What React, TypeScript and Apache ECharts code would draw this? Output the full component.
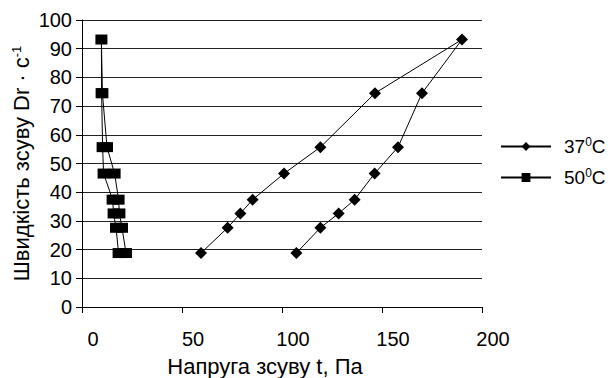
import React, { useEffect, useRef } from "react";
import * as echarts from "echarts";

const shearRate = [18.8, 27.6, 32.6, 37.4, 46.5, 55.7, 74.5, 93.2];
const stress37Up = [59.5, 72.8, 79.2, 85.3, 101, 119.2, 146.5, 190];
const stress37Down = [107.2, 119.2, 128.3, 136.3, 146.3, 158, 170, 190];
const stress50Up = [18.3, 17, 15.8, 15.3, 10.8, 10.3, 9.8, 9.7];
const stress50Down = [22, 20, 18.7, 18.3, 16.3, 12.5, 10.2, 9.7];
const seriesNames = ["37", "50"];
const xTicks = { min: 0, max: 200, interval: 50 };
const yTicks = { min: 0, max: 100, interval: 10 };

function loop(up: number[], down: number[]): number[][] {
  const pts: number[][] = [];
  for (let i = 0; i < up.length; i++) pts.push([up[i], shearRate[i]]);
  for (let i = down.length - 2; i >= 0; i--) pts.push([down[i], shearRate[i]]);
  return pts;
}

const FONT = "'Liberation Sans', Arial, sans-serif";

export default function App() {
  const ref = useRef<HTMLDivElement>(null);
  useEffect(() => {
    if (!ref.current) return;
    const chart = echarts.init(ref.current, undefined, { renderer: "svg" });
    chart.setOption({
      animation: false,
      backgroundColor: "#ffffff",
      grid: { left: 82, right: 130, top: 20, bottom: 71, containLabel: false, outerBoundsMode: "none" },
      legend: {
        orient: "vertical",
        left: 500,
        top: 136,
        padding: 0,
        itemWidth: 50,
        itemHeight: 11,
        itemGap: 11,
        data: seriesNames,
        formatter: (n: string) => `${n}{sup|0}C`,
        textStyle: {
          fontFamily: FONT,
          fontSize: 19,
          color: "#000",
          padding: [0, 0, 0, 8],
          rich: {
            sup: { fontFamily: FONT, fontSize: 12, color: "#000", padding: [0, 0, 9, 0] },
          },
        },
      },
      xAxis: {
        type: "value",
        min: xTicks.min,
        max: xTicks.max,
        interval: xTicks.interval,
        name: "Напруга зсуву t, Па",
        nameLocation: "middle",
        nameGap: 48,
        nameMoveOverlap: false,
        nameTextStyle: { fontFamily: FONT, fontSize: 22, color: "#000", padding: [0, 34, 0, 0] },
        axisLine: { show: true, lineStyle: { color: "#000", width: 1 } },
        axisTick: { show: true, length: 6, lineStyle: { color: "#000" } },
        axisLabel: { fontFamily: FONT, fontSize: 20, color: "#000", margin: 22, padding: [0, 0, 0, 22] },
        splitLine: { show: false },
      },
      yAxis: {
        type: "value",
        min: yTicks.min,
        max: yTicks.max,
        interval: yTicks.interval,
        name: "Швидкість зсуву Dr · с{sup|-1}",
        nameLocation: "middle",
        nameGap: 49,
        nameMoveOverlap: false,
        nameRotate: 90,
        nameTextStyle: {
          fontFamily: FONT,
          fontSize: 22,
          color: "#000",
          rich: {
            sup: { fontFamily: FONT, fontSize: 13, color: "#000", padding: [0, 0, 10, 0] },
          },
        },
        axisLine: { show: true, lineStyle: { color: "#000", width: 1 } },
        axisTick: { show: true, length: 6, lineStyle: { color: "#000" } },
        axisLabel: { fontFamily: FONT, fontSize: 20, color: "#000", margin: 10 },
        splitLine: { show: true, lineStyle: { color: "#222", width: 1 } },
      },
      series: [
        {
          name: seriesNames[0],
          type: "line",
          data: loop(stress37Up, stress37Down),
          symbol: "diamond",
          symbolSize: [12, 12],
          showAllSymbol: true,
          lineStyle: { color: "#000", width: 1 },
          itemStyle: { color: "#000" },
          z: 3,
        },
        {
          name: seriesNames[1],
          type: "line",
          data: loop(stress50Up, stress50Down),
          symbol: "rect",
          symbolSize: [12, 10],
          showAllSymbol: true,
          lineStyle: { color: "#000", width: 1 },
          itemStyle: { color: "#000" },
          z: 3,
        },
      ],
    });
    return () => chart.dispose();
  }, []);
  return (
    <div
      ref={ref}
      style={{ position: "fixed", left: 0, top: 0, width: 612, height: 378, background: "#fff" }}
    />
  );
}
